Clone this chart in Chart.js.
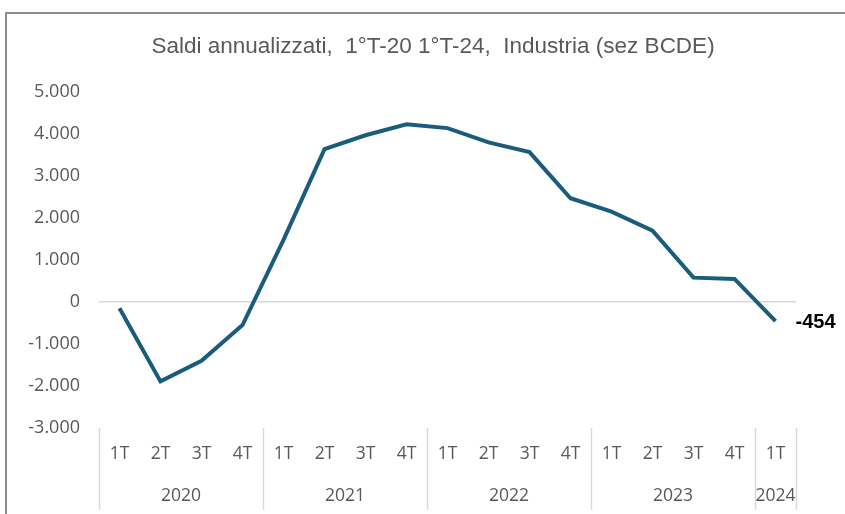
<!DOCTYPE html>
<html>
<head>
<meta charset="utf-8">
<script src="https://cdn.jsdelivr.net/npm/chart.js@4.4.0/dist/chart.umd.min.js"></script>
<style>
  html, body { margin: 0; padding: 0; background: #fff; overflow: hidden; }
  #frame { position: absolute; left: 5px; top: 12px; width: 900px; height: 600px; border: 2px solid #8c8c8c; box-sizing: border-box; }
  #chart { position: absolute; left: 0; top: 0; }
</style>
</head>
<body>
<div id="frame"></div>
<canvas id="chart" width="845" height="514"></canvas>
<script>
// data
const quarterLabels = ['1T','2T','3T','4T','1T','2T','3T','4T','1T','2T','3T','4T','1T','2T','3T','4T','1T'];
const yearLabels = ['2020', '2021', '2022', '2023', '2024'];
const quartersPerYear = [4, 4, 4, 4, 1];
const saldi = [-150, -1890, -1400, -550, 1480, 3640, 3970, 4230, 4140, 3800, 3570, 2470, 2150, 1700, 580, 550, -454];
const yTicks = [-3000, -2000, -1000, 0, 1000, 2000, 3000, 4000, 5000];

const titleText = 'Saldi annualizzati,  1°T-20 1°T-24,  Industria (sez BCDE)';
const grey = '#595959';
const lineColor = '#1a5c7c';

const fmt = v => v.toLocaleString('de-DE');

const extras = {
    id: 'extras',
    afterDraw(chart) {
        const ctx = chart.ctx;
        const x = chart.scales.x;
        const area = chart.chartArea;
        ctx.save();

        // title
        ctx.fillStyle = grey;
        ctx.font = '22.5px "Liberation Sans", sans-serif';
        ctx.textAlign = 'center';
        ctx.textBaseline = 'middle';
        ctx.fillText(titleText, 433, 47);

        // category axis: quarters, years, separators
        const step = x.getPixelForValue(1) - x.getPixelForValue(0);
        ctx.font = '17.5px "Open Sans", sans-serif';
        quarterLabels.forEach((q, i) => {
            ctx.fillText(q, x.getPixelForValue(i), 454);
        });
        ctx.strokeStyle = '#d9d9d9';
        ctx.lineWidth = 1.5;
        let idx = 0;
        const sep = px => {
            ctx.beginPath();
            ctx.moveTo(Math.round(px) + 0.5, area.bottom);
            ctx.lineTo(Math.round(px) + 0.5, 510);
            ctx.stroke();
        };
        sep(x.getPixelForValue(0) - step / 2);
        yearLabels.forEach((y, k) => {
            const n = quartersPerYear[k];
            const left = x.getPixelForValue(idx) - step / 2;
            const right = x.getPixelForValue(idx + n - 1) + step / 2;
            ctx.fillText(y, (left + right) / 2, 496);
            sep(right);
            idx += n;
        });

        // last value label
        const meta = chart.getDatasetMeta(0);
        const last = meta.data[meta.data.length - 1];
        ctx.fillStyle = '#000';
        ctx.font = 'bold 20px "Liberation Sans", sans-serif';
        ctx.textAlign = 'left';
        ctx.fillText(fmt(saldi[saldi.length - 1]), last.x + 20, last.y + 1);
        ctx.restore();
    }
};

new Chart(document.getElementById('chart'), {
    type: 'line',
    data: {
        labels: quarterLabels.map((q, i) => q + '-' + i),
        datasets: [{
            data: saldi,
            borderColor: lineColor,
            borderWidth: 4,
            pointRadius: 0,
            tension: 0,
            fill: false
        }]
    },
    options: {
        responsive: false,
        animation: false,
        devicePixelRatio: 1,
        layout: { padding: { top: 92, bottom: 86, right: 49, left: 0 } },
        plugins: { legend: { display: false }, tooltip: { enabled: false }, title: { display: false } },
        scales: {
            x: { type: 'category', offset: true, display: false },
            y: {
                min: -3000, max: 5000,
                afterBuildTicks: s => { s.ticks = yTicks.map(v => ({ value: v })); },
                afterFit: s => { s.width = 99; },
                border: { display: false },
                grid: {
                    drawTicks: false,
                    color: c => c.tick && c.tick.value === 0 ? '#d9d9d9' : 'rgba(0,0,0,0)',
                    lineWidth: 1.5
                },
                ticks: {
                    padding: 19,
                    color: grey,
                    font: { family: '"Open Sans", sans-serif', size: 18 },
                    callback: v => fmt(v)
                }
            }
        }
    },
    plugins: [extras]
});
</script>
</body>
</html>
